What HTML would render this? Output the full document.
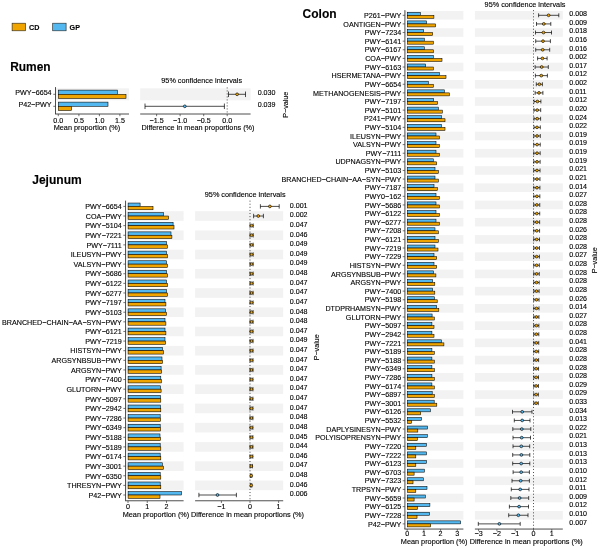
<!DOCTYPE html>
<html><head><meta charset="utf-8"><title>Extended error bar plots</title>
<style>
html,body{margin:0;padding:0;background:#fff}
svg{display:block}
text{font-family:"Liberation Sans",Arial,Helvetica,sans-serif;fill:#000;stroke:#000;stroke-width:0.12px}
</style></head><body>
<svg width="600" height="547" viewBox="0 0 600 547">
<rect x="0" y="0" width="600" height="547" fill="#fff"/>
<rect x="12.1" y="23.2" width="13.4" height="7.6" fill="#EFA400" stroke="#222" stroke-width="0.6"/>
<rect x="52.7" y="23.2" width="13.4" height="7.6" fill="#52B8EF" stroke="#222" stroke-width="0.6"/>
<text x="29.00" y="30.00" font-size="7.17" text-anchor="start" font-weight="bold">CD</text>
<text x="69.60" y="30.00" font-size="7.17" text-anchor="start" font-weight="bold">GP</text>
<text x="10.20" y="71.10" font-size="11.95" text-anchor="start" font-weight="bold">Rumen</text>
<text x="32.20" y="183.80" font-size="12.05" text-anchor="start" font-weight="bold">Jejunum</text>
<text x="302.60" y="18.20" font-size="12.0" text-anchor="start" font-weight="bold">Colon</text>
<rect x="55.50" y="88.30" width="73.50" height="12.00" fill="#f2f2f2"/>
<rect x="140.20" y="88.30" width="110.40" height="12.00" fill="#f2f2f2"/>
<line x1="227.20" y1="87.10" x2="227.20" y2="114.00" stroke="#222" stroke-width="0.5" stroke-dasharray="1.6,1.4"/>
<rect x="58.30" y="90.10" width="59.10" height="4.20" fill="#52B8EF" stroke="#000" stroke-width="0.55"/>
<rect x="58.30" y="94.30" width="67.70" height="4.20" fill="#EFA400" stroke="#000" stroke-width="0.55"/>
<line x1="53.30" y1="94.30" x2="55.50" y2="94.30" stroke="#3a3a3a" stroke-width="0.7"/>
<text x="51.60" y="95.35" font-size="7.17" text-anchor="end">PWY−6654</text>
<text x="257.70" y="95.30" font-size="7.1" text-anchor="start">0.030</text>
<path d="M228.50 94.30H245.50M228.50 91.54V97.06M245.50 91.54V97.06" stroke="#000" stroke-width="0.7" fill="none"/>
<circle cx="237.10" cy="94.30" r="1.4" fill="#EFA400" stroke="#000" stroke-width="0.62"/>
<rect x="58.30" y="102.10" width="49.70" height="4.20" fill="#52B8EF" stroke="#000" stroke-width="0.55"/>
<rect x="58.30" y="106.30" width="13.30" height="4.20" fill="#EFA400" stroke="#000" stroke-width="0.55"/>
<line x1="53.30" y1="106.30" x2="55.50" y2="106.30" stroke="#3a3a3a" stroke-width="0.7"/>
<text x="51.60" y="107.35" font-size="7.17" text-anchor="end">P42−PWY</text>
<text x="257.70" y="107.30" font-size="7.1" text-anchor="start">0.039</text>
<path d="M145.00 106.30H224.40M145.00 103.54V109.06M224.40 103.54V109.06" stroke="#000" stroke-width="0.7" fill="none"/>
<circle cx="184.80" cy="106.30" r="1.4" fill="#52B8EF" stroke="#000" stroke-width="0.62"/>
<line x1="55.50" y1="87.10" x2="55.50" y2="114.00" stroke="#3a3a3a" stroke-width="0.9"/>
<line x1="55.05" y1="114.00" x2="129.00" y2="114.00" stroke="#3a3a3a" stroke-width="0.9"/>
<line x1="140.20" y1="114.00" x2="250.60" y2="114.00" stroke="#3a3a3a" stroke-width="0.9"/>
<line x1="58.30" y1="114.00" x2="58.30" y2="116.20" stroke="#3a3a3a" stroke-width="0.7"/>
<text x="58.30" y="122.70" font-size="7.17" text-anchor="middle">0.0</text>
<line x1="78.90" y1="114.00" x2="78.90" y2="116.20" stroke="#3a3a3a" stroke-width="0.7"/>
<text x="78.90" y="122.70" font-size="7.17" text-anchor="middle">0.5</text>
<line x1="99.40" y1="114.00" x2="99.40" y2="116.20" stroke="#3a3a3a" stroke-width="0.7"/>
<text x="99.40" y="122.70" font-size="7.17" text-anchor="middle">1.0</text>
<line x1="119.90" y1="114.00" x2="119.90" y2="116.20" stroke="#3a3a3a" stroke-width="0.7"/>
<text x="119.90" y="122.70" font-size="7.17" text-anchor="middle">1.5</text>
<line x1="156.60" y1="114.00" x2="156.60" y2="116.20" stroke="#3a3a3a" stroke-width="0.7"/>
<text x="156.60" y="122.70" font-size="7.17" text-anchor="middle">−1.5</text>
<line x1="180.10" y1="114.00" x2="180.10" y2="116.20" stroke="#3a3a3a" stroke-width="0.7"/>
<text x="180.10" y="122.70" font-size="7.17" text-anchor="middle">−1.0</text>
<line x1="203.70" y1="114.00" x2="203.70" y2="116.20" stroke="#3a3a3a" stroke-width="0.7"/>
<text x="203.70" y="122.70" font-size="7.17" text-anchor="middle">−0.5</text>
<line x1="227.20" y1="114.00" x2="227.20" y2="116.20" stroke="#3a3a3a" stroke-width="0.7"/>
<text x="227.20" y="122.70" font-size="7.17" text-anchor="middle">0.0</text>
<text x="87.00" y="130.00" font-size="7.3" text-anchor="middle">Mean proportion (%)</text>
<text x="198.00" y="130.00" font-size="7.3" text-anchor="middle">Difference in mean proportions (%)</text>
<text x="201.70" y="83.20" font-size="7.27" text-anchor="middle">95% confidence intervals</text>
<text x="0.00" y="0.00" font-size="7.17" text-anchor="middle" transform="translate(287.80,104.75) rotate(-90)">P−value</text>
<rect x="125.55" y="211.21" width="58.05" height="9.62" fill="#f2f2f2"/>
<rect x="195.10" y="211.21" width="88.10" height="9.62" fill="#f2f2f2"/>
<rect x="125.55" y="230.45" width="58.05" height="9.62" fill="#f2f2f2"/>
<rect x="195.10" y="230.45" width="88.10" height="9.62" fill="#f2f2f2"/>
<rect x="125.55" y="249.69" width="58.05" height="9.62" fill="#f2f2f2"/>
<rect x="195.10" y="249.69" width="88.10" height="9.62" fill="#f2f2f2"/>
<rect x="125.55" y="268.93" width="58.05" height="9.62" fill="#f2f2f2"/>
<rect x="195.10" y="268.93" width="88.10" height="9.62" fill="#f2f2f2"/>
<rect x="125.55" y="288.17" width="58.05" height="9.62" fill="#f2f2f2"/>
<rect x="195.10" y="288.17" width="88.10" height="9.62" fill="#f2f2f2"/>
<rect x="125.55" y="307.41" width="58.05" height="9.62" fill="#f2f2f2"/>
<rect x="195.10" y="307.41" width="88.10" height="9.62" fill="#f2f2f2"/>
<rect x="125.55" y="326.65" width="58.05" height="9.62" fill="#f2f2f2"/>
<rect x="195.10" y="326.65" width="88.10" height="9.62" fill="#f2f2f2"/>
<rect x="125.55" y="345.89" width="58.05" height="9.62" fill="#f2f2f2"/>
<rect x="195.10" y="345.89" width="88.10" height="9.62" fill="#f2f2f2"/>
<rect x="125.55" y="365.13" width="58.05" height="9.62" fill="#f2f2f2"/>
<rect x="195.10" y="365.13" width="88.10" height="9.62" fill="#f2f2f2"/>
<rect x="125.55" y="384.37" width="58.05" height="9.62" fill="#f2f2f2"/>
<rect x="195.10" y="384.37" width="88.10" height="9.62" fill="#f2f2f2"/>
<rect x="125.55" y="403.61" width="58.05" height="9.62" fill="#f2f2f2"/>
<rect x="195.10" y="403.61" width="88.10" height="9.62" fill="#f2f2f2"/>
<rect x="125.55" y="422.85" width="58.05" height="9.62" fill="#f2f2f2"/>
<rect x="195.10" y="422.85" width="88.10" height="9.62" fill="#f2f2f2"/>
<rect x="125.55" y="442.09" width="58.05" height="9.62" fill="#f2f2f2"/>
<rect x="195.10" y="442.09" width="88.10" height="9.62" fill="#f2f2f2"/>
<rect x="125.55" y="461.33" width="58.05" height="9.62" fill="#f2f2f2"/>
<rect x="195.10" y="461.33" width="88.10" height="9.62" fill="#f2f2f2"/>
<rect x="125.55" y="480.57" width="58.05" height="9.62" fill="#f2f2f2"/>
<rect x="195.10" y="480.57" width="88.10" height="9.62" fill="#f2f2f2"/>
<line x1="250.00" y1="200.63" x2="250.00" y2="500.77" stroke="#000" stroke-width="0.7" stroke-dasharray="1.0,2.1"/>
<rect x="128.10" y="203.03" width="12.00" height="3.37" fill="#52B8EF" stroke="#000" stroke-width="0.55"/>
<rect x="128.10" y="206.40" width="24.90" height="3.37" fill="#EFA400" stroke="#000" stroke-width="0.55"/>
<line x1="123.35" y1="206.40" x2="125.55" y2="206.40" stroke="#3a3a3a" stroke-width="0.7"/>
<text x="121.75" y="209.15" font-size="7.17" text-anchor="end">PWY−6654</text>
<text x="289.80" y="207.70" font-size="7.1" text-anchor="start">0.001</text>
<path d="M260.40 206.40H279.20M260.40 204.19V208.61M279.20 204.19V208.61" stroke="#000" stroke-width="0.7" fill="none"/>
<circle cx="269.90" cy="206.40" r="1.4" fill="#EFA400" stroke="#000" stroke-width="0.62"/>
<rect x="128.10" y="212.65" width="35.40" height="3.37" fill="#52B8EF" stroke="#000" stroke-width="0.55"/>
<rect x="128.10" y="216.02" width="40.50" height="3.37" fill="#EFA400" stroke="#000" stroke-width="0.55"/>
<line x1="123.35" y1="216.02" x2="125.55" y2="216.02" stroke="#3a3a3a" stroke-width="0.7"/>
<text x="121.75" y="218.77" font-size="7.17" text-anchor="end">COA−PWY</text>
<text x="289.80" y="217.32" font-size="7.1" text-anchor="start">0.002</text>
<path d="M253.60 216.02H263.40M253.60 213.81V218.23M263.40 213.81V218.23" stroke="#000" stroke-width="0.7" fill="none"/>
<circle cx="258.30" cy="216.02" r="1.4" fill="#EFA400" stroke="#000" stroke-width="0.62"/>
<rect x="128.10" y="222.27" width="45.00" height="3.37" fill="#52B8EF" stroke="#000" stroke-width="0.55"/>
<rect x="128.10" y="225.64" width="45.90" height="3.37" fill="#EFA400" stroke="#000" stroke-width="0.55"/>
<line x1="123.35" y1="225.64" x2="125.55" y2="225.64" stroke="#3a3a3a" stroke-width="0.7"/>
<text x="121.75" y="228.39" font-size="7.17" text-anchor="end">PWY−5104</text>
<text x="289.80" y="226.94" font-size="7.1" text-anchor="start">0.047</text>
<path d="M250.00 225.64H253.20M250.00 223.43V227.85M253.20 223.43V227.85" stroke="#000" stroke-width="0.7" fill="none"/>
<circle cx="251.60" cy="225.64" r="1.4" fill="#EFA400" stroke="#000" stroke-width="0.62"/>
<rect x="128.10" y="231.89" width="42.90" height="3.37" fill="#52B8EF" stroke="#000" stroke-width="0.55"/>
<rect x="128.10" y="235.26" width="43.80" height="3.37" fill="#EFA400" stroke="#000" stroke-width="0.55"/>
<line x1="123.35" y1="235.26" x2="125.55" y2="235.26" stroke="#3a3a3a" stroke-width="0.7"/>
<text x="121.75" y="238.01" font-size="7.17" text-anchor="end">PWY−7221</text>
<text x="289.80" y="236.56" font-size="7.1" text-anchor="start">0.046</text>
<path d="M250.00 235.26H253.19M250.00 233.05V237.47M253.19 233.05V237.47" stroke="#000" stroke-width="0.7" fill="none"/>
<circle cx="251.59" cy="235.26" r="1.4" fill="#EFA400" stroke="#000" stroke-width="0.62"/>
<rect x="128.10" y="241.51" width="38.40" height="3.37" fill="#52B8EF" stroke="#000" stroke-width="0.55"/>
<rect x="128.10" y="244.88" width="39.30" height="3.37" fill="#EFA400" stroke="#000" stroke-width="0.55"/>
<line x1="123.35" y1="244.88" x2="125.55" y2="244.88" stroke="#3a3a3a" stroke-width="0.7"/>
<text x="121.75" y="247.63" font-size="7.17" text-anchor="end">PWY−7111</text>
<text x="289.80" y="246.18" font-size="7.1" text-anchor="start">0.049</text>
<path d="M250.00 244.88H253.17M250.00 242.67V247.09M253.17 242.67V247.09" stroke="#000" stroke-width="0.7" fill="none"/>
<circle cx="251.59" cy="244.88" r="1.4" fill="#EFA400" stroke="#000" stroke-width="0.62"/>
<rect x="128.10" y="251.13" width="38.40" height="3.37" fill="#52B8EF" stroke="#000" stroke-width="0.55"/>
<rect x="128.10" y="254.50" width="39.30" height="3.37" fill="#EFA400" stroke="#000" stroke-width="0.55"/>
<line x1="123.35" y1="254.50" x2="125.55" y2="254.50" stroke="#3a3a3a" stroke-width="0.7"/>
<text x="121.75" y="257.25" font-size="7.17" text-anchor="end">ILEUSYN−PWY</text>
<text x="289.80" y="255.80" font-size="7.1" text-anchor="start">0.049</text>
<path d="M250.00 254.50H253.16M250.00 252.29V256.71M253.16 252.29V256.71" stroke="#000" stroke-width="0.7" fill="none"/>
<circle cx="251.58" cy="254.50" r="1.4" fill="#EFA400" stroke="#000" stroke-width="0.62"/>
<rect x="128.10" y="260.75" width="38.40" height="3.37" fill="#52B8EF" stroke="#000" stroke-width="0.55"/>
<rect x="128.10" y="264.12" width="39.30" height="3.37" fill="#EFA400" stroke="#000" stroke-width="0.55"/>
<line x1="123.35" y1="264.12" x2="125.55" y2="264.12" stroke="#3a3a3a" stroke-width="0.7"/>
<text x="121.75" y="266.87" font-size="7.17" text-anchor="end">VALSYN−PWY</text>
<text x="289.80" y="265.42" font-size="7.1" text-anchor="start">0.049</text>
<path d="M250.00 264.12H253.14M250.00 261.91V266.33M253.14 261.91V266.33" stroke="#000" stroke-width="0.7" fill="none"/>
<circle cx="251.57" cy="264.12" r="1.4" fill="#EFA400" stroke="#000" stroke-width="0.62"/>
<rect x="128.10" y="270.37" width="38.40" height="3.37" fill="#52B8EF" stroke="#000" stroke-width="0.55"/>
<rect x="128.10" y="273.74" width="39.30" height="3.37" fill="#EFA400" stroke="#000" stroke-width="0.55"/>
<line x1="123.35" y1="273.74" x2="125.55" y2="273.74" stroke="#3a3a3a" stroke-width="0.7"/>
<text x="121.75" y="276.49" font-size="7.17" text-anchor="end">PWY−5686</text>
<text x="289.80" y="275.04" font-size="7.1" text-anchor="start">0.048</text>
<path d="M250.00 273.74H253.13M250.00 271.53V275.95M253.13 271.53V275.95" stroke="#000" stroke-width="0.7" fill="none"/>
<circle cx="251.56" cy="273.74" r="1.4" fill="#EFA400" stroke="#000" stroke-width="0.62"/>
<rect x="128.10" y="279.99" width="38.40" height="3.37" fill="#52B8EF" stroke="#000" stroke-width="0.55"/>
<rect x="128.10" y="283.36" width="39.30" height="3.37" fill="#EFA400" stroke="#000" stroke-width="0.55"/>
<line x1="123.35" y1="283.36" x2="125.55" y2="283.36" stroke="#3a3a3a" stroke-width="0.7"/>
<text x="121.75" y="286.11" font-size="7.17" text-anchor="end">PWY−6122</text>
<text x="289.80" y="284.66" font-size="7.1" text-anchor="start">0.047</text>
<path d="M250.00 283.36H253.11M250.00 281.15V285.57M253.11 281.15V285.57" stroke="#000" stroke-width="0.7" fill="none"/>
<circle cx="251.56" cy="283.36" r="1.4" fill="#EFA400" stroke="#000" stroke-width="0.62"/>
<rect x="128.10" y="289.61" width="38.40" height="3.37" fill="#52B8EF" stroke="#000" stroke-width="0.55"/>
<rect x="128.10" y="292.98" width="39.30" height="3.37" fill="#EFA400" stroke="#000" stroke-width="0.55"/>
<line x1="123.35" y1="292.98" x2="125.55" y2="292.98" stroke="#3a3a3a" stroke-width="0.7"/>
<text x="121.75" y="295.73" font-size="7.17" text-anchor="end">PWY−6277</text>
<text x="289.80" y="294.28" font-size="7.1" text-anchor="start">0.047</text>
<path d="M250.00 292.98H253.10M250.00 290.77V295.19M253.10 290.77V295.19" stroke="#000" stroke-width="0.7" fill="none"/>
<circle cx="251.55" cy="292.98" r="1.4" fill="#EFA400" stroke="#000" stroke-width="0.62"/>
<rect x="128.10" y="299.23" width="36.90" height="3.37" fill="#52B8EF" stroke="#000" stroke-width="0.55"/>
<rect x="128.10" y="302.60" width="37.80" height="3.37" fill="#EFA400" stroke="#000" stroke-width="0.55"/>
<line x1="123.35" y1="302.60" x2="125.55" y2="302.60" stroke="#3a3a3a" stroke-width="0.7"/>
<text x="121.75" y="305.35" font-size="7.17" text-anchor="end">PWY−7197</text>
<text x="289.80" y="303.90" font-size="7.1" text-anchor="start">0.047</text>
<path d="M250.00 302.60H253.08M250.00 300.39V304.81M253.08 300.39V304.81" stroke="#000" stroke-width="0.7" fill="none"/>
<circle cx="251.54" cy="302.60" r="1.4" fill="#EFA400" stroke="#000" stroke-width="0.62"/>
<rect x="128.10" y="308.85" width="37.50" height="3.37" fill="#52B8EF" stroke="#000" stroke-width="0.55"/>
<rect x="128.10" y="312.22" width="38.40" height="3.37" fill="#EFA400" stroke="#000" stroke-width="0.55"/>
<line x1="123.35" y1="312.22" x2="125.55" y2="312.22" stroke="#3a3a3a" stroke-width="0.7"/>
<text x="121.75" y="314.97" font-size="7.17" text-anchor="end">PWY−5103</text>
<text x="289.80" y="313.52" font-size="7.1" text-anchor="start">0.048</text>
<path d="M250.00 312.22H253.07M250.00 310.01V314.43M253.07 310.01V314.43" stroke="#000" stroke-width="0.7" fill="none"/>
<circle cx="251.53" cy="312.22" r="1.4" fill="#EFA400" stroke="#000" stroke-width="0.62"/>
<rect x="128.10" y="318.47" width="36.90" height="3.37" fill="#52B8EF" stroke="#000" stroke-width="0.55"/>
<rect x="128.10" y="321.84" width="37.80" height="3.37" fill="#EFA400" stroke="#000" stroke-width="0.55"/>
<line x1="123.35" y1="321.84" x2="125.55" y2="321.84" stroke="#3a3a3a" stroke-width="0.7"/>
<text x="121.75" y="324.59" font-size="7.17" text-anchor="end">BRANCHED−CHAIN−AA−SYN−PWY</text>
<text x="289.80" y="323.14" font-size="7.1" text-anchor="start">0.048</text>
<path d="M250.00 321.84H253.05M250.00 319.63V324.05M253.05 319.63V324.05" stroke="#000" stroke-width="0.7" fill="none"/>
<circle cx="251.53" cy="321.84" r="1.4" fill="#EFA400" stroke="#000" stroke-width="0.62"/>
<rect x="128.10" y="328.09" width="36.90" height="3.37" fill="#52B8EF" stroke="#000" stroke-width="0.55"/>
<rect x="128.10" y="331.46" width="37.80" height="3.37" fill="#EFA400" stroke="#000" stroke-width="0.55"/>
<line x1="123.35" y1="331.46" x2="125.55" y2="331.46" stroke="#3a3a3a" stroke-width="0.7"/>
<text x="121.75" y="334.21" font-size="7.17" text-anchor="end">PWY−6121</text>
<text x="289.80" y="332.76" font-size="7.1" text-anchor="start">0.047</text>
<path d="M250.00 331.46H253.04M250.00 329.25V333.67M253.04 329.25V333.67" stroke="#000" stroke-width="0.7" fill="none"/>
<circle cx="251.52" cy="331.46" r="1.4" fill="#EFA400" stroke="#000" stroke-width="0.62"/>
<rect x="128.10" y="337.71" width="36.90" height="3.37" fill="#52B8EF" stroke="#000" stroke-width="0.55"/>
<rect x="128.10" y="341.08" width="37.50" height="3.37" fill="#EFA400" stroke="#000" stroke-width="0.55"/>
<line x1="123.35" y1="341.08" x2="125.55" y2="341.08" stroke="#3a3a3a" stroke-width="0.7"/>
<text x="121.75" y="343.83" font-size="7.17" text-anchor="end">PWY−7219</text>
<text x="289.80" y="342.38" font-size="7.1" text-anchor="start">0.049</text>
<path d="M250.00 341.08H253.02M250.00 338.87V343.29M253.02 338.87V343.29" stroke="#000" stroke-width="0.7" fill="none"/>
<circle cx="251.51" cy="341.08" r="1.4" fill="#EFA400" stroke="#000" stroke-width="0.62"/>
<rect x="128.10" y="347.33" width="34.50" height="3.37" fill="#52B8EF" stroke="#000" stroke-width="0.55"/>
<rect x="128.10" y="350.70" width="35.40" height="3.37" fill="#EFA400" stroke="#000" stroke-width="0.55"/>
<line x1="123.35" y1="350.70" x2="125.55" y2="350.70" stroke="#3a3a3a" stroke-width="0.7"/>
<text x="121.75" y="353.45" font-size="7.17" text-anchor="end">HISTSYN−PWY</text>
<text x="289.80" y="352.00" font-size="7.1" text-anchor="start">0.047</text>
<path d="M250.00 350.70H253.01M250.00 348.49V352.91M253.01 348.49V352.91" stroke="#000" stroke-width="0.7" fill="none"/>
<circle cx="251.50" cy="350.70" r="1.4" fill="#EFA400" stroke="#000" stroke-width="0.62"/>
<rect x="128.10" y="356.95" width="33.90" height="3.37" fill="#52B8EF" stroke="#000" stroke-width="0.55"/>
<rect x="128.10" y="360.32" width="34.50" height="3.37" fill="#EFA400" stroke="#000" stroke-width="0.55"/>
<line x1="123.35" y1="360.32" x2="125.55" y2="360.32" stroke="#3a3a3a" stroke-width="0.7"/>
<text x="121.75" y="363.07" font-size="7.17" text-anchor="end">ARGSYNBSUB−PWY</text>
<text x="289.80" y="361.62" font-size="7.1" text-anchor="start">0.047</text>
<path d="M250.00 360.32H252.99M250.00 358.11V362.53M252.99 358.11V362.53" stroke="#000" stroke-width="0.7" fill="none"/>
<circle cx="251.50" cy="360.32" r="1.4" fill="#EFA400" stroke="#000" stroke-width="0.62"/>
<rect x="128.10" y="366.57" width="33.00" height="3.37" fill="#52B8EF" stroke="#000" stroke-width="0.55"/>
<rect x="128.10" y="369.94" width="33.60" height="3.37" fill="#EFA400" stroke="#000" stroke-width="0.55"/>
<line x1="123.35" y1="369.94" x2="125.55" y2="369.94" stroke="#3a3a3a" stroke-width="0.7"/>
<text x="121.75" y="372.69" font-size="7.17" text-anchor="end">ARGSYN−PWY</text>
<text x="289.80" y="371.24" font-size="7.1" text-anchor="start">0.047</text>
<path d="M250.00 369.94H252.98M250.00 367.73V372.15M252.98 367.73V372.15" stroke="#000" stroke-width="0.7" fill="none"/>
<circle cx="251.49" cy="369.94" r="1.4" fill="#EFA400" stroke="#000" stroke-width="0.62"/>
<rect x="128.10" y="376.19" width="32.70" height="3.37" fill="#52B8EF" stroke="#000" stroke-width="0.55"/>
<rect x="128.10" y="379.56" width="33.30" height="3.37" fill="#EFA400" stroke="#000" stroke-width="0.55"/>
<line x1="123.35" y1="379.56" x2="125.55" y2="379.56" stroke="#3a3a3a" stroke-width="0.7"/>
<text x="121.75" y="382.31" font-size="7.17" text-anchor="end">PWY−7400</text>
<text x="289.80" y="380.86" font-size="7.1" text-anchor="start">0.047</text>
<path d="M250.00 379.56H252.96M250.00 377.35V381.77M252.96 377.35V381.77" stroke="#000" stroke-width="0.7" fill="none"/>
<circle cx="251.48" cy="379.56" r="1.4" fill="#EFA400" stroke="#000" stroke-width="0.62"/>
<rect x="128.10" y="385.81" width="32.40" height="3.37" fill="#52B8EF" stroke="#000" stroke-width="0.55"/>
<rect x="128.10" y="389.18" width="33.00" height="3.37" fill="#EFA400" stroke="#000" stroke-width="0.55"/>
<line x1="123.35" y1="389.18" x2="125.55" y2="389.18" stroke="#3a3a3a" stroke-width="0.7"/>
<text x="121.75" y="391.93" font-size="7.17" text-anchor="end">GLUTORN−PWY</text>
<text x="289.80" y="390.48" font-size="7.1" text-anchor="start">0.047</text>
<path d="M250.00 389.18H252.95M250.00 386.97V391.39M252.95 386.97V391.39" stroke="#000" stroke-width="0.7" fill="none"/>
<circle cx="251.47" cy="389.18" r="1.4" fill="#EFA400" stroke="#000" stroke-width="0.62"/>
<rect x="128.10" y="395.43" width="32.40" height="3.37" fill="#52B8EF" stroke="#000" stroke-width="0.55"/>
<rect x="128.10" y="398.80" width="32.70" height="3.37" fill="#EFA400" stroke="#000" stroke-width="0.55"/>
<line x1="123.35" y1="398.80" x2="125.55" y2="398.80" stroke="#3a3a3a" stroke-width="0.7"/>
<text x="121.75" y="401.55" font-size="7.17" text-anchor="end">PWY−5097</text>
<text x="289.80" y="400.10" font-size="7.1" text-anchor="start">0.047</text>
<path d="M250.00 398.80H252.93M250.00 396.59V401.01M252.93 396.59V401.01" stroke="#000" stroke-width="0.7" fill="none"/>
<circle cx="251.47" cy="398.80" r="1.4" fill="#EFA400" stroke="#000" stroke-width="0.62"/>
<rect x="128.10" y="405.05" width="32.40" height="3.37" fill="#52B8EF" stroke="#000" stroke-width="0.55"/>
<rect x="128.10" y="408.42" width="32.70" height="3.37" fill="#EFA400" stroke="#000" stroke-width="0.55"/>
<line x1="123.35" y1="408.42" x2="125.55" y2="408.42" stroke="#3a3a3a" stroke-width="0.7"/>
<text x="121.75" y="411.17" font-size="7.17" text-anchor="end">PWY−2942</text>
<text x="289.80" y="409.72" font-size="7.1" text-anchor="start">0.047</text>
<path d="M250.00 408.42H252.92M250.00 406.21V410.63M252.92 406.21V410.63" stroke="#000" stroke-width="0.7" fill="none"/>
<circle cx="251.46" cy="408.42" r="1.4" fill="#EFA400" stroke="#000" stroke-width="0.62"/>
<rect x="128.10" y="414.67" width="32.10" height="3.37" fill="#52B8EF" stroke="#000" stroke-width="0.55"/>
<rect x="128.10" y="418.04" width="32.40" height="3.37" fill="#EFA400" stroke="#000" stroke-width="0.55"/>
<line x1="123.35" y1="418.04" x2="125.55" y2="418.04" stroke="#3a3a3a" stroke-width="0.7"/>
<text x="121.75" y="420.79" font-size="7.17" text-anchor="end">PWY−7286</text>
<text x="289.80" y="419.34" font-size="7.1" text-anchor="start">0.048</text>
<path d="M250.00 418.04H252.90M250.00 415.83V420.25M252.90 415.83V420.25" stroke="#000" stroke-width="0.7" fill="none"/>
<circle cx="251.45" cy="418.04" r="1.4" fill="#EFA400" stroke="#000" stroke-width="0.62"/>
<rect x="128.10" y="424.29" width="32.10" height="3.37" fill="#52B8EF" stroke="#000" stroke-width="0.55"/>
<rect x="128.10" y="427.66" width="32.40" height="3.37" fill="#EFA400" stroke="#000" stroke-width="0.55"/>
<line x1="123.35" y1="427.66" x2="125.55" y2="427.66" stroke="#3a3a3a" stroke-width="0.7"/>
<text x="121.75" y="430.41" font-size="7.17" text-anchor="end">PWY−6349</text>
<text x="289.80" y="428.96" font-size="7.1" text-anchor="start">0.048</text>
<path d="M250.00 427.66H252.89M250.00 425.45V429.87M252.89 425.45V429.87" stroke="#000" stroke-width="0.7" fill="none"/>
<circle cx="251.44" cy="427.66" r="1.4" fill="#EFA400" stroke="#000" stroke-width="0.62"/>
<rect x="128.10" y="433.91" width="31.90" height="3.37" fill="#52B8EF" stroke="#000" stroke-width="0.55"/>
<rect x="128.10" y="437.28" width="32.40" height="3.37" fill="#EFA400" stroke="#000" stroke-width="0.55"/>
<line x1="123.35" y1="437.28" x2="125.55" y2="437.28" stroke="#3a3a3a" stroke-width="0.7"/>
<text x="121.75" y="440.03" font-size="7.17" text-anchor="end">PWY−5188</text>
<text x="289.80" y="438.58" font-size="7.1" text-anchor="start">0.045</text>
<path d="M250.00 437.28H252.87M250.00 435.07V439.49M252.87 435.07V439.49" stroke="#000" stroke-width="0.7" fill="none"/>
<circle cx="251.44" cy="437.28" r="1.4" fill="#EFA400" stroke="#000" stroke-width="0.62"/>
<rect x="128.10" y="443.53" width="32.10" height="3.37" fill="#52B8EF" stroke="#000" stroke-width="0.55"/>
<rect x="128.10" y="446.90" width="32.70" height="3.37" fill="#EFA400" stroke="#000" stroke-width="0.55"/>
<line x1="123.35" y1="446.90" x2="125.55" y2="446.90" stroke="#3a3a3a" stroke-width="0.7"/>
<text x="121.75" y="449.65" font-size="7.17" text-anchor="end">PWY−5189</text>
<text x="289.80" y="448.20" font-size="7.1" text-anchor="start">0.044</text>
<path d="M250.00 446.90H252.86M250.00 444.69V449.11M252.86 444.69V449.11" stroke="#000" stroke-width="0.7" fill="none"/>
<circle cx="251.43" cy="446.90" r="1.4" fill="#EFA400" stroke="#000" stroke-width="0.62"/>
<rect x="128.10" y="453.15" width="32.10" height="3.37" fill="#52B8EF" stroke="#000" stroke-width="0.55"/>
<rect x="128.10" y="456.52" width="32.70" height="3.37" fill="#EFA400" stroke="#000" stroke-width="0.55"/>
<line x1="123.35" y1="456.52" x2="125.55" y2="456.52" stroke="#3a3a3a" stroke-width="0.7"/>
<text x="121.75" y="459.27" font-size="7.17" text-anchor="end">PWY−6174</text>
<text x="289.80" y="457.82" font-size="7.1" text-anchor="start">0.046</text>
<path d="M250.00 456.52H252.84M250.00 454.31V458.73M252.84 454.31V458.73" stroke="#000" stroke-width="0.7" fill="none"/>
<circle cx="251.42" cy="456.52" r="1.4" fill="#EFA400" stroke="#000" stroke-width="0.62"/>
<rect x="128.10" y="462.77" width="34.20" height="3.37" fill="#52B8EF" stroke="#000" stroke-width="0.55"/>
<rect x="128.10" y="466.14" width="35.40" height="3.37" fill="#EFA400" stroke="#000" stroke-width="0.55"/>
<line x1="123.35" y1="466.14" x2="125.55" y2="466.14" stroke="#3a3a3a" stroke-width="0.7"/>
<text x="121.75" y="468.89" font-size="7.17" text-anchor="end">PWY−3001</text>
<text x="289.80" y="467.44" font-size="7.1" text-anchor="start">0.047</text>
<path d="M250.20 466.14H252.40M250.20 463.93V468.35M252.40 463.93V468.35" stroke="#000" stroke-width="0.7" fill="none"/>
<circle cx="251.30" cy="466.14" r="1.4" fill="#EFA400" stroke="#000" stroke-width="0.62"/>
<rect x="128.10" y="472.39" width="32.10" height="3.37" fill="#52B8EF" stroke="#000" stroke-width="0.55"/>
<rect x="128.10" y="475.76" width="32.70" height="3.37" fill="#EFA400" stroke="#000" stroke-width="0.55"/>
<line x1="123.35" y1="475.76" x2="125.55" y2="475.76" stroke="#3a3a3a" stroke-width="0.7"/>
<text x="121.75" y="478.51" font-size="7.17" text-anchor="end">PWY−6350</text>
<text x="289.80" y="477.06" font-size="7.1" text-anchor="start">0.048</text>
<path d="M250.60 475.76H251.80M250.60 473.55V477.97M251.80 473.55V477.97" stroke="#000" stroke-width="0.7" fill="none"/>
<circle cx="251.20" cy="475.76" r="1.4" fill="#EFA400" stroke="#000" stroke-width="0.62"/>
<rect x="128.10" y="482.01" width="32.10" height="3.37" fill="#52B8EF" stroke="#000" stroke-width="0.55"/>
<rect x="128.10" y="485.38" width="32.70" height="3.37" fill="#EFA400" stroke="#000" stroke-width="0.55"/>
<line x1="123.35" y1="485.38" x2="125.55" y2="485.38" stroke="#3a3a3a" stroke-width="0.7"/>
<text x="121.75" y="488.13" font-size="7.17" text-anchor="end">THRESYN−PWY</text>
<text x="289.80" y="486.68" font-size="7.1" text-anchor="start">0.046</text>
<path d="M250.60 485.38H251.80M250.60 483.17V487.59M251.80 483.17V487.59" stroke="#000" stroke-width="0.7" fill="none"/>
<circle cx="251.20" cy="485.38" r="1.4" fill="#EFA400" stroke="#000" stroke-width="0.62"/>
<rect x="128.10" y="491.63" width="53.40" height="3.37" fill="#52B8EF" stroke="#000" stroke-width="0.55"/>
<rect x="128.10" y="495.00" width="31.90" height="3.37" fill="#EFA400" stroke="#000" stroke-width="0.55"/>
<line x1="123.35" y1="495.00" x2="125.55" y2="495.00" stroke="#3a3a3a" stroke-width="0.7"/>
<text x="121.75" y="497.75" font-size="7.17" text-anchor="end">P42−PWY</text>
<text x="289.80" y="496.30" font-size="7.1" text-anchor="start">0.006</text>
<path d="M198.90 495.00H236.40M198.90 492.79V497.21M236.40 492.79V497.21" stroke="#000" stroke-width="0.7" fill="none"/>
<circle cx="217.50" cy="495.00" r="1.4" fill="#52B8EF" stroke="#000" stroke-width="0.62"/>
<line x1="125.55" y1="200.63" x2="125.55" y2="500.77" stroke="#3a3a3a" stroke-width="0.9"/>
<line x1="125.10" y1="500.77" x2="183.60" y2="500.77" stroke="#3a3a3a" stroke-width="0.9"/>
<line x1="195.10" y1="500.77" x2="283.20" y2="500.77" stroke="#3a3a3a" stroke-width="0.9"/>
<line x1="128.00" y1="500.77" x2="128.00" y2="502.97" stroke="#3a3a3a" stroke-width="0.7"/>
<text x="128.00" y="509.37" font-size="7.17" text-anchor="middle">0</text>
<line x1="147.25" y1="500.77" x2="147.25" y2="502.97" stroke="#3a3a3a" stroke-width="0.7"/>
<text x="147.25" y="509.37" font-size="7.17" text-anchor="middle">1</text>
<line x1="166.50" y1="500.77" x2="166.50" y2="502.97" stroke="#3a3a3a" stroke-width="0.7"/>
<text x="166.50" y="509.37" font-size="7.17" text-anchor="middle">2</text>
<line x1="221.40" y1="500.77" x2="221.40" y2="502.97" stroke="#3a3a3a" stroke-width="0.7"/>
<text x="221.40" y="509.37" font-size="7.17" text-anchor="middle">−1</text>
<line x1="250.00" y1="500.77" x2="250.00" y2="502.97" stroke="#3a3a3a" stroke-width="0.7"/>
<text x="250.00" y="509.37" font-size="7.17" text-anchor="middle">0</text>
<line x1="278.60" y1="500.77" x2="278.60" y2="502.97" stroke="#3a3a3a" stroke-width="0.7"/>
<text x="278.60" y="509.37" font-size="7.17" text-anchor="middle">1</text>
<text x="156.00" y="516.97" font-size="7.3" text-anchor="middle">Mean proportion (%)</text>
<text x="247.50" y="516.97" font-size="7.3" text-anchor="middle">Difference in mean proportions (%)</text>
<text x="245.20" y="197.20" font-size="7.27" text-anchor="middle">95% confidence intervals</text>
<text x="0.00" y="0.00" font-size="7.17" text-anchor="middle" transform="translate(319.00,347.30) rotate(-90)">P−value</text>
<rect x="404.90" y="10.99" width="58.50" height="8.62" fill="#f2f2f2"/>
<rect x="474.90" y="10.99" width="87.90" height="8.62" fill="#f2f2f2"/>
<rect x="404.90" y="28.23" width="58.50" height="8.62" fill="#f2f2f2"/>
<rect x="474.90" y="28.23" width="87.90" height="8.62" fill="#f2f2f2"/>
<rect x="404.90" y="45.47" width="58.50" height="8.62" fill="#f2f2f2"/>
<rect x="474.90" y="45.47" width="87.90" height="8.62" fill="#f2f2f2"/>
<rect x="404.90" y="62.71" width="58.50" height="8.62" fill="#f2f2f2"/>
<rect x="474.90" y="62.71" width="87.90" height="8.62" fill="#f2f2f2"/>
<rect x="404.90" y="79.95" width="58.50" height="8.62" fill="#f2f2f2"/>
<rect x="474.90" y="79.95" width="87.90" height="8.62" fill="#f2f2f2"/>
<rect x="404.90" y="97.19" width="58.50" height="8.62" fill="#f2f2f2"/>
<rect x="474.90" y="97.19" width="87.90" height="8.62" fill="#f2f2f2"/>
<rect x="404.90" y="114.43" width="58.50" height="8.62" fill="#f2f2f2"/>
<rect x="474.90" y="114.43" width="87.90" height="8.62" fill="#f2f2f2"/>
<rect x="404.90" y="131.67" width="58.50" height="8.62" fill="#f2f2f2"/>
<rect x="474.90" y="131.67" width="87.90" height="8.62" fill="#f2f2f2"/>
<rect x="404.90" y="148.91" width="58.50" height="8.62" fill="#f2f2f2"/>
<rect x="474.90" y="148.91" width="87.90" height="8.62" fill="#f2f2f2"/>
<rect x="404.90" y="166.15" width="58.50" height="8.62" fill="#f2f2f2"/>
<rect x="474.90" y="166.15" width="87.90" height="8.62" fill="#f2f2f2"/>
<rect x="404.90" y="183.39" width="58.50" height="8.62" fill="#f2f2f2"/>
<rect x="474.90" y="183.39" width="87.90" height="8.62" fill="#f2f2f2"/>
<rect x="404.90" y="200.63" width="58.50" height="8.62" fill="#f2f2f2"/>
<rect x="474.90" y="200.63" width="87.90" height="8.62" fill="#f2f2f2"/>
<rect x="404.90" y="217.87" width="58.50" height="8.62" fill="#f2f2f2"/>
<rect x="474.90" y="217.87" width="87.90" height="8.62" fill="#f2f2f2"/>
<rect x="404.90" y="235.11" width="58.50" height="8.62" fill="#f2f2f2"/>
<rect x="474.90" y="235.11" width="87.90" height="8.62" fill="#f2f2f2"/>
<rect x="404.90" y="252.35" width="58.50" height="8.62" fill="#f2f2f2"/>
<rect x="474.90" y="252.35" width="87.90" height="8.62" fill="#f2f2f2"/>
<rect x="404.90" y="269.59" width="58.50" height="8.62" fill="#f2f2f2"/>
<rect x="474.90" y="269.59" width="87.90" height="8.62" fill="#f2f2f2"/>
<rect x="404.90" y="286.83" width="58.50" height="8.62" fill="#f2f2f2"/>
<rect x="474.90" y="286.83" width="87.90" height="8.62" fill="#f2f2f2"/>
<rect x="404.90" y="304.07" width="58.50" height="8.62" fill="#f2f2f2"/>
<rect x="474.90" y="304.07" width="87.90" height="8.62" fill="#f2f2f2"/>
<rect x="404.90" y="321.31" width="58.50" height="8.62" fill="#f2f2f2"/>
<rect x="474.90" y="321.31" width="87.90" height="8.62" fill="#f2f2f2"/>
<rect x="404.90" y="338.55" width="58.50" height="8.62" fill="#f2f2f2"/>
<rect x="474.90" y="338.55" width="87.90" height="8.62" fill="#f2f2f2"/>
<rect x="404.90" y="355.79" width="58.50" height="8.62" fill="#f2f2f2"/>
<rect x="474.90" y="355.79" width="87.90" height="8.62" fill="#f2f2f2"/>
<rect x="404.90" y="373.03" width="58.50" height="8.62" fill="#f2f2f2"/>
<rect x="474.90" y="373.03" width="87.90" height="8.62" fill="#f2f2f2"/>
<rect x="404.90" y="390.27" width="58.50" height="8.62" fill="#f2f2f2"/>
<rect x="474.90" y="390.27" width="87.90" height="8.62" fill="#f2f2f2"/>
<rect x="404.90" y="407.51" width="58.50" height="8.62" fill="#f2f2f2"/>
<rect x="474.90" y="407.51" width="87.90" height="8.62" fill="#f2f2f2"/>
<rect x="404.90" y="424.75" width="58.50" height="8.62" fill="#f2f2f2"/>
<rect x="474.90" y="424.75" width="87.90" height="8.62" fill="#f2f2f2"/>
<rect x="404.90" y="441.99" width="58.50" height="8.62" fill="#f2f2f2"/>
<rect x="474.90" y="441.99" width="87.90" height="8.62" fill="#f2f2f2"/>
<rect x="404.90" y="459.23" width="58.50" height="8.62" fill="#f2f2f2"/>
<rect x="474.90" y="459.23" width="87.90" height="8.62" fill="#f2f2f2"/>
<rect x="404.90" y="476.47" width="58.50" height="8.62" fill="#f2f2f2"/>
<rect x="474.90" y="476.47" width="87.90" height="8.62" fill="#f2f2f2"/>
<rect x="404.90" y="493.71" width="58.50" height="8.62" fill="#f2f2f2"/>
<rect x="474.90" y="493.71" width="87.90" height="8.62" fill="#f2f2f2"/>
<rect x="404.90" y="510.95" width="58.50" height="8.62" fill="#f2f2f2"/>
<rect x="474.90" y="510.95" width="87.90" height="8.62" fill="#f2f2f2"/>
<line x1="533.50" y1="10.13" x2="533.50" y2="529.05" stroke="#000" stroke-width="0.7" stroke-dasharray="1.0,2.1"/>
<rect x="407.40" y="12.28" width="12.90" height="3.02" fill="#52B8EF" stroke="#000" stroke-width="0.55"/>
<rect x="407.40" y="15.30" width="26.50" height="3.02" fill="#EFA400" stroke="#000" stroke-width="0.55"/>
<line x1="402.70" y1="15.30" x2="404.90" y2="15.30" stroke="#3a3a3a" stroke-width="0.7"/>
<text x="401.20" y="17.95" font-size="7.17" text-anchor="end">P261−PWY</text>
<text x="569.30" y="16.10" font-size="7.1" text-anchor="start">0.008</text>
<path d="M538.60 15.30H558.80M538.60 13.32V17.28M558.80 13.32V17.28" stroke="#000" stroke-width="0.7" fill="none"/>
<circle cx="548.60" cy="15.30" r="1.4" fill="#EFA400" stroke="#000" stroke-width="0.62"/>
<rect x="407.40" y="20.90" width="19.20" height="3.02" fill="#52B8EF" stroke="#000" stroke-width="0.55"/>
<rect x="407.40" y="23.92" width="28.30" height="3.02" fill="#EFA400" stroke="#000" stroke-width="0.55"/>
<line x1="402.70" y1="23.92" x2="404.90" y2="23.92" stroke="#3a3a3a" stroke-width="0.7"/>
<text x="401.20" y="26.57" font-size="7.17" text-anchor="end">OANTIGEN−PWY</text>
<text x="569.30" y="24.72" font-size="7.1" text-anchor="start">0.009</text>
<path d="M536.50 23.92H550.80M536.50 21.94V25.90M550.80 21.94V25.90" stroke="#000" stroke-width="0.7" fill="none"/>
<circle cx="543.80" cy="23.92" r="1.4" fill="#EFA400" stroke="#000" stroke-width="0.62"/>
<rect x="407.40" y="29.52" width="16.30" height="3.02" fill="#52B8EF" stroke="#000" stroke-width="0.55"/>
<rect x="407.40" y="32.54" width="25.30" height="3.02" fill="#EFA400" stroke="#000" stroke-width="0.55"/>
<line x1="402.70" y1="32.54" x2="404.90" y2="32.54" stroke="#3a3a3a" stroke-width="0.7"/>
<text x="401.20" y="35.19" font-size="7.17" text-anchor="end">PWY−7234</text>
<text x="569.30" y="33.34" font-size="7.1" text-anchor="start">0.018</text>
<path d="M535.50 32.54H551.50M535.50 30.56V34.52M551.50 30.56V34.52" stroke="#000" stroke-width="0.7" fill="none"/>
<circle cx="543.50" cy="32.54" r="1.4" fill="#EFA400" stroke="#000" stroke-width="0.62"/>
<rect x="407.40" y="38.14" width="16.90" height="3.02" fill="#52B8EF" stroke="#000" stroke-width="0.55"/>
<rect x="407.40" y="41.16" width="25.90" height="3.02" fill="#EFA400" stroke="#000" stroke-width="0.55"/>
<line x1="402.70" y1="41.16" x2="404.90" y2="41.16" stroke="#3a3a3a" stroke-width="0.7"/>
<text x="401.20" y="43.81" font-size="7.17" text-anchor="end">PWY−6141</text>
<text x="569.30" y="41.96" font-size="7.1" text-anchor="start">0.016</text>
<path d="M535.70 41.16H550.40M535.70 39.18V43.14M550.40 39.18V43.14" stroke="#000" stroke-width="0.7" fill="none"/>
<circle cx="543.00" cy="41.16" r="1.4" fill="#EFA400" stroke="#000" stroke-width="0.62"/>
<rect x="407.40" y="46.76" width="16.90" height="3.02" fill="#52B8EF" stroke="#000" stroke-width="0.55"/>
<rect x="407.40" y="49.78" width="25.90" height="3.02" fill="#EFA400" stroke="#000" stroke-width="0.55"/>
<line x1="402.70" y1="49.78" x2="404.90" y2="49.78" stroke="#3a3a3a" stroke-width="0.7"/>
<text x="401.20" y="52.43" font-size="7.17" text-anchor="end">PWY−6167</text>
<text x="569.30" y="50.58" font-size="7.1" text-anchor="start">0.016</text>
<path d="M535.70 49.78H549.70M535.70 47.80V51.76M549.70 47.80V51.76" stroke="#000" stroke-width="0.7" fill="none"/>
<circle cx="542.70" cy="49.78" r="1.4" fill="#EFA400" stroke="#000" stroke-width="0.62"/>
<rect x="407.40" y="55.38" width="25.90" height="3.02" fill="#52B8EF" stroke="#000" stroke-width="0.55"/>
<rect x="407.40" y="58.40" width="34.60" height="3.02" fill="#EFA400" stroke="#000" stroke-width="0.55"/>
<line x1="402.70" y1="58.40" x2="404.90" y2="58.40" stroke="#3a3a3a" stroke-width="0.7"/>
<text x="401.20" y="61.05" font-size="7.17" text-anchor="end">COA−PWY</text>
<text x="569.30" y="59.20" font-size="7.1" text-anchor="start">0.002</text>
<path d="M537.60 58.40H547.10M537.60 56.42V60.38M547.10 56.42V60.38" stroke="#000" stroke-width="0.7" fill="none"/>
<circle cx="542.40" cy="58.40" r="1.4" fill="#EFA400" stroke="#000" stroke-width="0.62"/>
<rect x="407.40" y="64.00" width="18.30" height="3.02" fill="#52B8EF" stroke="#000" stroke-width="0.55"/>
<rect x="407.40" y="67.02" width="25.90" height="3.02" fill="#EFA400" stroke="#000" stroke-width="0.55"/>
<line x1="402.70" y1="67.02" x2="404.90" y2="67.02" stroke="#3a3a3a" stroke-width="0.7"/>
<text x="401.20" y="69.67" font-size="7.17" text-anchor="end">PWY−6163</text>
<text x="569.30" y="67.82" font-size="7.1" text-anchor="start">0.017</text>
<path d="M535.10 67.02H548.30M535.10 65.04V69.00M548.30 65.04V69.00" stroke="#000" stroke-width="0.7" fill="none"/>
<circle cx="541.70" cy="67.02" r="1.4" fill="#EFA400" stroke="#000" stroke-width="0.62"/>
<rect x="407.40" y="72.62" width="31.90" height="3.02" fill="#52B8EF" stroke="#000" stroke-width="0.55"/>
<rect x="407.40" y="75.64" width="38.60" height="3.02" fill="#EFA400" stroke="#000" stroke-width="0.55"/>
<line x1="402.70" y1="75.64" x2="404.90" y2="75.64" stroke="#3a3a3a" stroke-width="0.7"/>
<text x="401.20" y="78.29" font-size="7.17" text-anchor="end">HSERMETANA−PWY</text>
<text x="569.30" y="76.44" font-size="7.1" text-anchor="start">0.012</text>
<path d="M535.40 75.64H547.40M535.40 73.66V77.62M547.40 73.66V77.62" stroke="#000" stroke-width="0.7" fill="none"/>
<circle cx="541.30" cy="75.64" r="1.4" fill="#EFA400" stroke="#000" stroke-width="0.62"/>
<rect x="407.40" y="81.24" width="20.90" height="3.02" fill="#52B8EF" stroke="#000" stroke-width="0.55"/>
<rect x="407.40" y="84.26" width="25.90" height="3.02" fill="#EFA400" stroke="#000" stroke-width="0.55"/>
<line x1="402.70" y1="84.26" x2="404.90" y2="84.26" stroke="#3a3a3a" stroke-width="0.7"/>
<text x="401.20" y="86.91" font-size="7.17" text-anchor="end">PWY−6654</text>
<text x="569.30" y="85.06" font-size="7.1" text-anchor="start">0.002</text>
<path d="M536.30 84.26H542.40M536.30 82.28V86.24M542.40 82.28V86.24" stroke="#000" stroke-width="0.7" fill="none"/>
<circle cx="539.40" cy="84.26" r="1.4" fill="#EFA400" stroke="#000" stroke-width="0.62"/>
<rect x="407.40" y="89.86" width="36.90" height="3.02" fill="#52B8EF" stroke="#000" stroke-width="0.55"/>
<rect x="407.40" y="92.88" width="41.90" height="3.02" fill="#EFA400" stroke="#000" stroke-width="0.55"/>
<line x1="402.70" y1="92.88" x2="404.90" y2="92.88" stroke="#3a3a3a" stroke-width="0.7"/>
<text x="401.20" y="95.53" font-size="7.17" text-anchor="end">METHANOGENESIS−PWY</text>
<text x="569.30" y="93.68" font-size="7.1" text-anchor="start">0.011</text>
<path d="M535.10 92.88H542.90M535.10 90.90V94.86M542.90 90.90V94.86" stroke="#000" stroke-width="0.7" fill="none"/>
<circle cx="539.00" cy="92.88" r="1.4" fill="#EFA400" stroke="#000" stroke-width="0.62"/>
<rect x="407.40" y="98.48" width="26.30" height="3.02" fill="#52B8EF" stroke="#000" stroke-width="0.55"/>
<rect x="407.40" y="101.50" width="30.30" height="3.02" fill="#EFA400" stroke="#000" stroke-width="0.55"/>
<line x1="402.70" y1="101.50" x2="404.90" y2="101.50" stroke="#3a3a3a" stroke-width="0.7"/>
<text x="401.20" y="104.15" font-size="7.17" text-anchor="end">PWY−7197</text>
<text x="569.30" y="102.30" font-size="7.1" text-anchor="start">0.012</text>
<path d="M534.00 101.50H540.90M534.00 99.52V103.48M540.90 99.52V103.48" stroke="#000" stroke-width="0.7" fill="none"/>
<circle cx="537.40" cy="101.50" r="1.4" fill="#EFA400" stroke="#000" stroke-width="0.62"/>
<rect x="407.40" y="107.10" width="30.90" height="3.02" fill="#52B8EF" stroke="#000" stroke-width="0.55"/>
<rect x="407.40" y="110.12" width="34.90" height="3.02" fill="#EFA400" stroke="#000" stroke-width="0.55"/>
<line x1="402.70" y1="110.12" x2="404.90" y2="110.12" stroke="#3a3a3a" stroke-width="0.7"/>
<text x="401.20" y="112.77" font-size="7.17" text-anchor="end">PWY−5101</text>
<text x="569.30" y="110.92" font-size="7.1" text-anchor="start">0.020</text>
<path d="M534.00 110.12H540.70M534.00 108.14V112.10M540.70 108.14V112.10" stroke="#000" stroke-width="0.7" fill="none"/>
<circle cx="537.20" cy="110.12" r="1.4" fill="#EFA400" stroke="#000" stroke-width="0.62"/>
<rect x="407.40" y="115.72" width="33.90" height="3.02" fill="#52B8EF" stroke="#000" stroke-width="0.55"/>
<rect x="407.40" y="118.74" width="37.60" height="3.02" fill="#EFA400" stroke="#000" stroke-width="0.55"/>
<line x1="402.70" y1="118.74" x2="404.90" y2="118.74" stroke="#3a3a3a" stroke-width="0.7"/>
<text x="401.20" y="121.39" font-size="7.17" text-anchor="end">P241−PWY</text>
<text x="569.30" y="119.54" font-size="7.1" text-anchor="start">0.024</text>
<path d="M534.00 118.74H540.60M534.00 116.76V120.72M540.60 116.76V120.72" stroke="#000" stroke-width="0.7" fill="none"/>
<circle cx="537.20" cy="118.74" r="1.4" fill="#EFA400" stroke="#000" stroke-width="0.62"/>
<rect x="407.40" y="124.34" width="33.90" height="3.02" fill="#52B8EF" stroke="#000" stroke-width="0.55"/>
<rect x="407.40" y="127.36" width="37.60" height="3.02" fill="#EFA400" stroke="#000" stroke-width="0.55"/>
<line x1="402.70" y1="127.36" x2="404.90" y2="127.36" stroke="#3a3a3a" stroke-width="0.7"/>
<text x="401.20" y="130.01" font-size="7.17" text-anchor="end">PWY−5104</text>
<text x="569.30" y="128.16" font-size="7.1" text-anchor="start">0.022</text>
<path d="M534.00 127.36H540.30M534.00 125.38V129.34M540.30 125.38V129.34" stroke="#000" stroke-width="0.7" fill="none"/>
<circle cx="537.00" cy="127.36" r="1.4" fill="#EFA400" stroke="#000" stroke-width="0.62"/>
<rect x="407.40" y="132.96" width="28.60" height="3.02" fill="#52B8EF" stroke="#000" stroke-width="0.55"/>
<rect x="407.40" y="135.98" width="31.90" height="3.02" fill="#EFA400" stroke="#000" stroke-width="0.55"/>
<line x1="402.70" y1="135.98" x2="404.90" y2="135.98" stroke="#3a3a3a" stroke-width="0.7"/>
<text x="401.20" y="138.63" font-size="7.17" text-anchor="end">ILEUSYN−PWY</text>
<text x="569.30" y="136.78" font-size="7.1" text-anchor="start">0.019</text>
<path d="M533.80 135.98H540.30M533.80 134.00V137.96M540.30 134.00V137.96" stroke="#000" stroke-width="0.7" fill="none"/>
<circle cx="537.10" cy="135.98" r="1.4" fill="#EFA400" stroke="#000" stroke-width="0.62"/>
<rect x="407.40" y="141.58" width="28.60" height="3.02" fill="#52B8EF" stroke="#000" stroke-width="0.55"/>
<rect x="407.40" y="144.60" width="31.90" height="3.02" fill="#EFA400" stroke="#000" stroke-width="0.55"/>
<line x1="402.70" y1="144.60" x2="404.90" y2="144.60" stroke="#3a3a3a" stroke-width="0.7"/>
<text x="401.20" y="147.25" font-size="7.17" text-anchor="end">VALSYN−PWY</text>
<text x="569.30" y="145.40" font-size="7.1" text-anchor="start">0.019</text>
<path d="M533.80 144.60H540.24M533.80 142.62V146.58M540.24 142.62V146.58" stroke="#000" stroke-width="0.7" fill="none"/>
<circle cx="537.07" cy="144.60" r="1.4" fill="#EFA400" stroke="#000" stroke-width="0.62"/>
<rect x="407.40" y="150.20" width="28.60" height="3.02" fill="#52B8EF" stroke="#000" stroke-width="0.55"/>
<rect x="407.40" y="153.22" width="31.90" height="3.02" fill="#EFA400" stroke="#000" stroke-width="0.55"/>
<line x1="402.70" y1="153.22" x2="404.90" y2="153.22" stroke="#3a3a3a" stroke-width="0.7"/>
<text x="401.20" y="155.87" font-size="7.17" text-anchor="end">PWY−7111</text>
<text x="569.30" y="154.02" font-size="7.1" text-anchor="start">0.019</text>
<path d="M533.80 153.22H540.17M533.80 151.24V155.20M540.17 151.24V155.20" stroke="#000" stroke-width="0.7" fill="none"/>
<circle cx="537.04" cy="153.22" r="1.4" fill="#EFA400" stroke="#000" stroke-width="0.62"/>
<rect x="407.40" y="158.82" width="25.90" height="3.02" fill="#52B8EF" stroke="#000" stroke-width="0.55"/>
<rect x="407.40" y="161.84" width="29.30" height="3.02" fill="#EFA400" stroke="#000" stroke-width="0.55"/>
<line x1="402.70" y1="161.84" x2="404.90" y2="161.84" stroke="#3a3a3a" stroke-width="0.7"/>
<text x="401.20" y="164.49" font-size="7.17" text-anchor="end">UDPNAGSYN−PWY</text>
<text x="569.30" y="162.64" font-size="7.1" text-anchor="start">0.019</text>
<path d="M533.80 161.84H540.11M533.80 159.86V163.82M540.11 159.86V163.82" stroke="#000" stroke-width="0.7" fill="none"/>
<circle cx="537.00" cy="161.84" r="1.4" fill="#EFA400" stroke="#000" stroke-width="0.62"/>
<rect x="407.40" y="167.44" width="27.60" height="3.02" fill="#52B8EF" stroke="#000" stroke-width="0.55"/>
<rect x="407.40" y="170.46" width="30.90" height="3.02" fill="#EFA400" stroke="#000" stroke-width="0.55"/>
<line x1="402.70" y1="170.46" x2="404.90" y2="170.46" stroke="#3a3a3a" stroke-width="0.7"/>
<text x="401.20" y="173.11" font-size="7.17" text-anchor="end">PWY−5103</text>
<text x="569.30" y="171.26" font-size="7.1" text-anchor="start">0.021</text>
<path d="M533.80 170.46H540.04M533.80 168.48V172.44M540.04 168.48V172.44" stroke="#000" stroke-width="0.7" fill="none"/>
<circle cx="536.97" cy="170.46" r="1.4" fill="#EFA400" stroke="#000" stroke-width="0.62"/>
<rect x="407.40" y="176.06" width="27.60" height="3.02" fill="#52B8EF" stroke="#000" stroke-width="0.55"/>
<rect x="407.40" y="179.08" width="30.90" height="3.02" fill="#EFA400" stroke="#000" stroke-width="0.55"/>
<line x1="402.70" y1="179.08" x2="404.90" y2="179.08" stroke="#3a3a3a" stroke-width="0.7"/>
<text x="401.20" y="181.73" font-size="7.17" text-anchor="end">BRANCHED−CHAIN−AA−SYN−PWY</text>
<text x="569.30" y="179.88" font-size="7.1" text-anchor="start">0.021</text>
<path d="M533.80 179.08H539.98M533.80 177.10V181.06M539.98 177.10V181.06" stroke="#000" stroke-width="0.7" fill="none"/>
<circle cx="536.94" cy="179.08" r="1.4" fill="#EFA400" stroke="#000" stroke-width="0.62"/>
<rect x="407.40" y="184.68" width="26.60" height="3.02" fill="#52B8EF" stroke="#000" stroke-width="0.55"/>
<rect x="407.40" y="187.70" width="29.90" height="3.02" fill="#EFA400" stroke="#000" stroke-width="0.55"/>
<line x1="402.70" y1="187.70" x2="404.90" y2="187.70" stroke="#3a3a3a" stroke-width="0.7"/>
<text x="401.20" y="190.35" font-size="7.17" text-anchor="end">PWY−7187</text>
<text x="569.30" y="188.50" font-size="7.1" text-anchor="start">0.014</text>
<path d="M533.80 187.70H539.91M533.80 185.72V189.68M539.91 185.72V189.68" stroke="#000" stroke-width="0.7" fill="none"/>
<circle cx="536.91" cy="187.70" r="1.4" fill="#EFA400" stroke="#000" stroke-width="0.62"/>
<rect x="407.40" y="193.30" width="28.60" height="3.02" fill="#52B8EF" stroke="#000" stroke-width="0.55"/>
<rect x="407.40" y="196.32" width="31.90" height="3.02" fill="#EFA400" stroke="#000" stroke-width="0.55"/>
<line x1="402.70" y1="196.32" x2="404.90" y2="196.32" stroke="#3a3a3a" stroke-width="0.7"/>
<text x="401.20" y="198.97" font-size="7.17" text-anchor="end">PWY0−162</text>
<text x="569.30" y="197.12" font-size="7.1" text-anchor="start">0.027</text>
<path d="M533.80 196.32H539.85M533.80 194.34V198.30M539.85 194.34V198.30" stroke="#000" stroke-width="0.7" fill="none"/>
<circle cx="536.87" cy="196.32" r="1.4" fill="#EFA400" stroke="#000" stroke-width="0.62"/>
<rect x="407.40" y="201.92" width="28.60" height="3.02" fill="#52B8EF" stroke="#000" stroke-width="0.55"/>
<rect x="407.40" y="204.94" width="31.90" height="3.02" fill="#EFA400" stroke="#000" stroke-width="0.55"/>
<line x1="402.70" y1="204.94" x2="404.90" y2="204.94" stroke="#3a3a3a" stroke-width="0.7"/>
<text x="401.20" y="207.59" font-size="7.17" text-anchor="end">PWY−5686</text>
<text x="569.30" y="205.74" font-size="7.1" text-anchor="start">0.028</text>
<path d="M533.80 204.94H539.78M533.80 202.96V206.92M539.78 202.96V206.92" stroke="#000" stroke-width="0.7" fill="none"/>
<circle cx="536.84" cy="204.94" r="1.4" fill="#EFA400" stroke="#000" stroke-width="0.62"/>
<rect x="407.40" y="210.54" width="28.60" height="3.02" fill="#52B8EF" stroke="#000" stroke-width="0.55"/>
<rect x="407.40" y="213.56" width="31.90" height="3.02" fill="#EFA400" stroke="#000" stroke-width="0.55"/>
<line x1="402.70" y1="213.56" x2="404.90" y2="213.56" stroke="#3a3a3a" stroke-width="0.7"/>
<text x="401.20" y="216.21" font-size="7.17" text-anchor="end">PWY−6122</text>
<text x="569.30" y="214.36" font-size="7.1" text-anchor="start">0.028</text>
<path d="M533.80 213.56H539.72M533.80 211.58V215.54M539.72 211.58V215.54" stroke="#000" stroke-width="0.7" fill="none"/>
<circle cx="536.81" cy="213.56" r="1.4" fill="#EFA400" stroke="#000" stroke-width="0.62"/>
<rect x="407.40" y="219.16" width="28.60" height="3.02" fill="#52B8EF" stroke="#000" stroke-width="0.55"/>
<rect x="407.40" y="222.18" width="31.90" height="3.02" fill="#EFA400" stroke="#000" stroke-width="0.55"/>
<line x1="402.70" y1="222.18" x2="404.90" y2="222.18" stroke="#3a3a3a" stroke-width="0.7"/>
<text x="401.20" y="224.83" font-size="7.17" text-anchor="end">PWY−6277</text>
<text x="569.30" y="222.98" font-size="7.1" text-anchor="start">0.028</text>
<path d="M533.80 222.18H539.65M533.80 220.20V224.16M539.65 220.20V224.16" stroke="#000" stroke-width="0.7" fill="none"/>
<circle cx="536.78" cy="222.18" r="1.4" fill="#EFA400" stroke="#000" stroke-width="0.62"/>
<rect x="407.40" y="227.78" width="27.60" height="3.02" fill="#52B8EF" stroke="#000" stroke-width="0.55"/>
<rect x="407.40" y="230.80" width="30.90" height="3.02" fill="#EFA400" stroke="#000" stroke-width="0.55"/>
<line x1="402.70" y1="230.80" x2="404.90" y2="230.80" stroke="#3a3a3a" stroke-width="0.7"/>
<text x="401.20" y="233.45" font-size="7.17" text-anchor="end">PWY−7208</text>
<text x="569.30" y="231.60" font-size="7.1" text-anchor="start">0.026</text>
<path d="M533.80 230.80H539.59M533.80 228.82V232.78M539.59 228.82V232.78" stroke="#000" stroke-width="0.7" fill="none"/>
<circle cx="536.75" cy="230.80" r="1.4" fill="#EFA400" stroke="#000" stroke-width="0.62"/>
<rect x="407.40" y="236.40" width="27.60" height="3.02" fill="#52B8EF" stroke="#000" stroke-width="0.55"/>
<rect x="407.40" y="239.42" width="30.90" height="3.02" fill="#EFA400" stroke="#000" stroke-width="0.55"/>
<line x1="402.70" y1="239.42" x2="404.90" y2="239.42" stroke="#3a3a3a" stroke-width="0.7"/>
<text x="401.20" y="242.07" font-size="7.17" text-anchor="end">PWY−6121</text>
<text x="569.30" y="240.22" font-size="7.1" text-anchor="start">0.028</text>
<path d="M533.80 239.42H539.53M533.80 237.44V241.40M539.53 237.44V241.40" stroke="#000" stroke-width="0.7" fill="none"/>
<circle cx="536.71" cy="239.42" r="1.4" fill="#EFA400" stroke="#000" stroke-width="0.62"/>
<rect x="407.40" y="245.02" width="27.60" height="3.02" fill="#52B8EF" stroke="#000" stroke-width="0.55"/>
<rect x="407.40" y="248.04" width="30.60" height="3.02" fill="#EFA400" stroke="#000" stroke-width="0.55"/>
<line x1="402.70" y1="248.04" x2="404.90" y2="248.04" stroke="#3a3a3a" stroke-width="0.7"/>
<text x="401.20" y="250.69" font-size="7.17" text-anchor="end">PWY−7219</text>
<text x="569.30" y="248.84" font-size="7.1" text-anchor="start">0.028</text>
<path d="M533.80 248.04H539.46M533.80 246.06V250.02M539.46 246.06V250.02" stroke="#000" stroke-width="0.7" fill="none"/>
<circle cx="536.68" cy="248.04" r="1.4" fill="#EFA400" stroke="#000" stroke-width="0.62"/>
<rect x="407.40" y="253.64" width="26.60" height="3.02" fill="#52B8EF" stroke="#000" stroke-width="0.55"/>
<rect x="407.40" y="256.66" width="29.30" height="3.02" fill="#EFA400" stroke="#000" stroke-width="0.55"/>
<line x1="402.70" y1="256.66" x2="404.90" y2="256.66" stroke="#3a3a3a" stroke-width="0.7"/>
<text x="401.20" y="259.31" font-size="7.17" text-anchor="end">PWY−7229</text>
<text x="569.30" y="257.46" font-size="7.1" text-anchor="start">0.027</text>
<path d="M533.80 256.66H539.40M533.80 254.68V258.64M539.40 254.68V258.64" stroke="#000" stroke-width="0.7" fill="none"/>
<circle cx="536.65" cy="256.66" r="1.4" fill="#EFA400" stroke="#000" stroke-width="0.62"/>
<rect x="407.40" y="262.26" width="26.60" height="3.02" fill="#52B8EF" stroke="#000" stroke-width="0.55"/>
<rect x="407.40" y="265.28" width="29.30" height="3.02" fill="#EFA400" stroke="#000" stroke-width="0.55"/>
<line x1="402.70" y1="265.28" x2="404.90" y2="265.28" stroke="#3a3a3a" stroke-width="0.7"/>
<text x="401.20" y="267.93" font-size="7.17" text-anchor="end">HISTSYN−PWY</text>
<text x="569.30" y="266.08" font-size="7.1" text-anchor="start">0.028</text>
<path d="M533.80 265.28H539.33M533.80 263.30V267.26M539.33 263.30V267.26" stroke="#000" stroke-width="0.7" fill="none"/>
<circle cx="536.62" cy="265.28" r="1.4" fill="#EFA400" stroke="#000" stroke-width="0.62"/>
<rect x="407.40" y="270.88" width="26.10" height="3.02" fill="#52B8EF" stroke="#000" stroke-width="0.55"/>
<rect x="407.40" y="273.90" width="28.50" height="3.02" fill="#EFA400" stroke="#000" stroke-width="0.55"/>
<line x1="402.70" y1="273.90" x2="404.90" y2="273.90" stroke="#3a3a3a" stroke-width="0.7"/>
<text x="401.20" y="276.55" font-size="7.17" text-anchor="end">ARGSYNBSUB−PWY</text>
<text x="569.30" y="274.70" font-size="7.1" text-anchor="start">0.028</text>
<path d="M533.80 273.90H539.27M533.80 271.92V275.88M539.27 271.92V275.88" stroke="#000" stroke-width="0.7" fill="none"/>
<circle cx="536.58" cy="273.90" r="1.4" fill="#EFA400" stroke="#000" stroke-width="0.62"/>
<rect x="407.40" y="279.50" width="25.30" height="3.02" fill="#52B8EF" stroke="#000" stroke-width="0.55"/>
<rect x="407.40" y="282.52" width="27.40" height="3.02" fill="#EFA400" stroke="#000" stroke-width="0.55"/>
<line x1="402.70" y1="282.52" x2="404.90" y2="282.52" stroke="#3a3a3a" stroke-width="0.7"/>
<text x="401.20" y="285.17" font-size="7.17" text-anchor="end">ARGSYN−PWY</text>
<text x="569.30" y="283.32" font-size="7.1" text-anchor="start">0.028</text>
<path d="M533.80 282.52H539.20M533.80 280.54V284.50M539.20 280.54V284.50" stroke="#000" stroke-width="0.7" fill="none"/>
<circle cx="536.55" cy="282.52" r="1.4" fill="#EFA400" stroke="#000" stroke-width="0.62"/>
<rect x="407.40" y="288.12" width="25.30" height="3.02" fill="#52B8EF" stroke="#000" stroke-width="0.55"/>
<rect x="407.40" y="291.14" width="27.40" height="3.02" fill="#EFA400" stroke="#000" stroke-width="0.55"/>
<line x1="402.70" y1="291.14" x2="404.90" y2="291.14" stroke="#3a3a3a" stroke-width="0.7"/>
<text x="401.20" y="293.79" font-size="7.17" text-anchor="end">PWY−7400</text>
<text x="569.30" y="291.94" font-size="7.1" text-anchor="start">0.028</text>
<path d="M533.80 291.14H539.14M533.80 289.16V293.12M539.14 289.16V293.12" stroke="#000" stroke-width="0.7" fill="none"/>
<circle cx="536.52" cy="291.14" r="1.4" fill="#EFA400" stroke="#000" stroke-width="0.62"/>
<rect x="407.40" y="296.74" width="27.10" height="3.02" fill="#52B8EF" stroke="#000" stroke-width="0.55"/>
<rect x="407.40" y="299.76" width="29.80" height="3.02" fill="#EFA400" stroke="#000" stroke-width="0.55"/>
<line x1="402.70" y1="299.76" x2="404.90" y2="299.76" stroke="#3a3a3a" stroke-width="0.7"/>
<text x="401.20" y="302.41" font-size="7.17" text-anchor="end">PWY−5198</text>
<text x="569.30" y="300.56" font-size="7.1" text-anchor="start">0.026</text>
<path d="M533.80 299.76H539.07M533.80 297.78V301.74M539.07 297.78V301.74" stroke="#000" stroke-width="0.7" fill="none"/>
<circle cx="536.49" cy="299.76" r="1.4" fill="#EFA400" stroke="#000" stroke-width="0.62"/>
<rect x="407.40" y="305.36" width="29.30" height="3.02" fill="#52B8EF" stroke="#000" stroke-width="0.55"/>
<rect x="407.40" y="308.38" width="31.40" height="3.02" fill="#EFA400" stroke="#000" stroke-width="0.55"/>
<line x1="402.70" y1="308.38" x2="404.90" y2="308.38" stroke="#3a3a3a" stroke-width="0.7"/>
<text x="401.20" y="311.03" font-size="7.17" text-anchor="end">DTDPRHAMSYN−PWY</text>
<text x="569.30" y="309.18" font-size="7.1" text-anchor="start">0.014</text>
<path d="M533.80 308.38H539.01M533.80 306.40V310.36M539.01 306.40V310.36" stroke="#000" stroke-width="0.7" fill="none"/>
<circle cx="536.45" cy="308.38" r="1.4" fill="#EFA400" stroke="#000" stroke-width="0.62"/>
<rect x="407.40" y="313.98" width="24.70" height="3.02" fill="#52B8EF" stroke="#000" stroke-width="0.55"/>
<rect x="407.40" y="317.00" width="26.90" height="3.02" fill="#EFA400" stroke="#000" stroke-width="0.55"/>
<line x1="402.70" y1="317.00" x2="404.90" y2="317.00" stroke="#3a3a3a" stroke-width="0.7"/>
<text x="401.20" y="319.65" font-size="7.17" text-anchor="end">GLUTORN−PWY</text>
<text x="569.30" y="317.80" font-size="7.1" text-anchor="start">0.027</text>
<path d="M533.80 317.00H538.95M533.80 315.02V318.98M538.95 315.02V318.98" stroke="#000" stroke-width="0.7" fill="none"/>
<circle cx="536.42" cy="317.00" r="1.4" fill="#EFA400" stroke="#000" stroke-width="0.62"/>
<rect x="407.40" y="322.60" width="24.50" height="3.02" fill="#52B8EF" stroke="#000" stroke-width="0.55"/>
<rect x="407.40" y="325.62" width="26.60" height="3.02" fill="#EFA400" stroke="#000" stroke-width="0.55"/>
<line x1="402.70" y1="325.62" x2="404.90" y2="325.62" stroke="#3a3a3a" stroke-width="0.7"/>
<text x="401.20" y="328.27" font-size="7.17" text-anchor="end">PWY−5097</text>
<text x="569.30" y="326.42" font-size="7.1" text-anchor="start">0.028</text>
<path d="M533.80 325.62H538.88M533.80 323.64V327.60M538.88 323.64V327.60" stroke="#000" stroke-width="0.7" fill="none"/>
<circle cx="536.39" cy="325.62" r="1.4" fill="#EFA400" stroke="#000" stroke-width="0.62"/>
<rect x="407.40" y="331.22" width="24.50" height="3.02" fill="#52B8EF" stroke="#000" stroke-width="0.55"/>
<rect x="407.40" y="334.24" width="26.60" height="3.02" fill="#EFA400" stroke="#000" stroke-width="0.55"/>
<line x1="402.70" y1="334.24" x2="404.90" y2="334.24" stroke="#3a3a3a" stroke-width="0.7"/>
<text x="401.20" y="336.89" font-size="7.17" text-anchor="end">PWY−2942</text>
<text x="569.30" y="335.04" font-size="7.1" text-anchor="start">0.028</text>
<path d="M533.80 334.24H538.82M533.80 332.26V336.22M538.82 332.26V336.22" stroke="#000" stroke-width="0.7" fill="none"/>
<circle cx="536.36" cy="334.24" r="1.4" fill="#EFA400" stroke="#000" stroke-width="0.62"/>
<rect x="407.40" y="339.84" width="34.10" height="3.02" fill="#52B8EF" stroke="#000" stroke-width="0.55"/>
<rect x="407.40" y="342.86" width="36.50" height="3.02" fill="#EFA400" stroke="#000" stroke-width="0.55"/>
<line x1="402.70" y1="342.86" x2="404.90" y2="342.86" stroke="#3a3a3a" stroke-width="0.7"/>
<text x="401.20" y="345.51" font-size="7.17" text-anchor="end">PWY−7221</text>
<text x="569.30" y="343.66" font-size="7.1" text-anchor="start">0.041</text>
<path d="M533.80 342.86H538.75M533.80 340.88V344.84M538.75 340.88V344.84" stroke="#000" stroke-width="0.7" fill="none"/>
<circle cx="536.33" cy="342.86" r="1.4" fill="#EFA400" stroke="#000" stroke-width="0.62"/>
<rect x="407.40" y="348.46" width="24.50" height="3.02" fill="#52B8EF" stroke="#000" stroke-width="0.55"/>
<rect x="407.40" y="351.48" width="26.90" height="3.02" fill="#EFA400" stroke="#000" stroke-width="0.55"/>
<line x1="402.70" y1="351.48" x2="404.90" y2="351.48" stroke="#3a3a3a" stroke-width="0.7"/>
<text x="401.20" y="354.13" font-size="7.17" text-anchor="end">PWY−5189</text>
<text x="569.30" y="352.28" font-size="7.1" text-anchor="start">0.028</text>
<path d="M533.80 351.48H538.69M533.80 349.50V353.46M538.69 349.50V353.46" stroke="#000" stroke-width="0.7" fill="none"/>
<circle cx="536.29" cy="351.48" r="1.4" fill="#EFA400" stroke="#000" stroke-width="0.62"/>
<rect x="407.40" y="357.08" width="24.50" height="3.02" fill="#52B8EF" stroke="#000" stroke-width="0.55"/>
<rect x="407.40" y="360.10" width="26.90" height="3.02" fill="#EFA400" stroke="#000" stroke-width="0.55"/>
<line x1="402.70" y1="360.10" x2="404.90" y2="360.10" stroke="#3a3a3a" stroke-width="0.7"/>
<text x="401.20" y="362.75" font-size="7.17" text-anchor="end">PWY−5188</text>
<text x="569.30" y="360.90" font-size="7.1" text-anchor="start">0.028</text>
<path d="M533.80 360.10H538.62M533.80 358.12V362.08M538.62 358.12V362.08" stroke="#000" stroke-width="0.7" fill="none"/>
<circle cx="536.26" cy="360.10" r="1.4" fill="#EFA400" stroke="#000" stroke-width="0.62"/>
<rect x="407.40" y="365.70" width="24.50" height="3.02" fill="#52B8EF" stroke="#000" stroke-width="0.55"/>
<rect x="407.40" y="368.72" width="26.90" height="3.02" fill="#EFA400" stroke="#000" stroke-width="0.55"/>
<line x1="402.70" y1="368.72" x2="404.90" y2="368.72" stroke="#3a3a3a" stroke-width="0.7"/>
<text x="401.20" y="371.37" font-size="7.17" text-anchor="end">PWY−6349</text>
<text x="569.30" y="369.52" font-size="7.1" text-anchor="start">0.028</text>
<path d="M533.80 368.72H538.56M533.80 366.74V370.70M538.56 366.74V370.70" stroke="#000" stroke-width="0.7" fill="none"/>
<circle cx="536.23" cy="368.72" r="1.4" fill="#EFA400" stroke="#000" stroke-width="0.62"/>
<rect x="407.40" y="374.32" width="24.50" height="3.02" fill="#52B8EF" stroke="#000" stroke-width="0.55"/>
<rect x="407.40" y="377.34" width="26.90" height="3.02" fill="#EFA400" stroke="#000" stroke-width="0.55"/>
<line x1="402.70" y1="377.34" x2="404.90" y2="377.34" stroke="#3a3a3a" stroke-width="0.7"/>
<text x="401.20" y="379.99" font-size="7.17" text-anchor="end">PWY−7286</text>
<text x="569.30" y="378.14" font-size="7.1" text-anchor="start">0.028</text>
<path d="M533.80 377.34H538.49M533.80 375.36V379.32M538.49 375.36V379.32" stroke="#000" stroke-width="0.7" fill="none"/>
<circle cx="536.20" cy="377.34" r="1.4" fill="#EFA400" stroke="#000" stroke-width="0.62"/>
<rect x="407.40" y="382.94" width="24.50" height="3.02" fill="#52B8EF" stroke="#000" stroke-width="0.55"/>
<rect x="407.40" y="385.96" width="26.90" height="3.02" fill="#EFA400" stroke="#000" stroke-width="0.55"/>
<line x1="402.70" y1="385.96" x2="404.90" y2="385.96" stroke="#3a3a3a" stroke-width="0.7"/>
<text x="401.20" y="388.61" font-size="7.17" text-anchor="end">PWY−6174</text>
<text x="569.30" y="386.76" font-size="7.1" text-anchor="start">0.029</text>
<path d="M533.80 385.96H538.43M533.80 383.98V387.94M538.43 383.98V387.94" stroke="#000" stroke-width="0.7" fill="none"/>
<circle cx="536.16" cy="385.96" r="1.4" fill="#EFA400" stroke="#000" stroke-width="0.62"/>
<rect x="407.40" y="391.56" width="24.80" height="3.02" fill="#52B8EF" stroke="#000" stroke-width="0.55"/>
<rect x="407.40" y="394.58" width="27.10" height="3.02" fill="#EFA400" stroke="#000" stroke-width="0.55"/>
<line x1="402.70" y1="394.58" x2="404.90" y2="394.58" stroke="#3a3a3a" stroke-width="0.7"/>
<text x="401.20" y="397.23" font-size="7.17" text-anchor="end">PWY−6897</text>
<text x="569.30" y="395.38" font-size="7.1" text-anchor="start">0.029</text>
<path d="M533.80 394.58H538.36M533.80 392.60V396.56M538.36 392.60V396.56" stroke="#000" stroke-width="0.7" fill="none"/>
<circle cx="536.13" cy="394.58" r="1.4" fill="#EFA400" stroke="#000" stroke-width="0.62"/>
<rect x="407.40" y="400.18" width="26.80" height="3.02" fill="#52B8EF" stroke="#000" stroke-width="0.55"/>
<rect x="407.40" y="403.20" width="29.40" height="3.02" fill="#EFA400" stroke="#000" stroke-width="0.55"/>
<line x1="402.70" y1="403.20" x2="404.90" y2="403.20" stroke="#3a3a3a" stroke-width="0.7"/>
<text x="401.20" y="405.85" font-size="7.17" text-anchor="end">PWY−3001</text>
<text x="569.30" y="404.00" font-size="7.1" text-anchor="start">0.033</text>
<path d="M533.80 403.20H538.30M533.80 401.22V405.18M538.30 401.22V405.18" stroke="#000" stroke-width="0.7" fill="none"/>
<circle cx="536.10" cy="403.20" r="1.4" fill="#EFA400" stroke="#000" stroke-width="0.62"/>
<rect x="407.40" y="408.80" width="23.00" height="3.02" fill="#52B8EF" stroke="#000" stroke-width="0.55"/>
<rect x="407.40" y="411.82" width="13.30" height="3.02" fill="#EFA400" stroke="#000" stroke-width="0.55"/>
<line x1="402.70" y1="411.82" x2="404.90" y2="411.82" stroke="#3a3a3a" stroke-width="0.7"/>
<text x="401.20" y="414.47" font-size="7.17" text-anchor="end">PWY−6126</text>
<text x="569.30" y="412.62" font-size="7.1" text-anchor="start">0.034</text>
<path d="M512.50 411.82H532.00M512.50 409.84V413.80M532.00 409.84V413.80" stroke="#000" stroke-width="0.7" fill="none"/>
<circle cx="522.20" cy="411.82" r="1.4" fill="#52B8EF" stroke="#000" stroke-width="0.62"/>
<rect x="407.40" y="417.42" width="14.10" height="3.02" fill="#52B8EF" stroke="#000" stroke-width="0.55"/>
<rect x="407.40" y="420.44" width="4.20" height="3.02" fill="#EFA400" stroke="#000" stroke-width="0.55"/>
<line x1="402.70" y1="420.44" x2="404.90" y2="420.44" stroke="#3a3a3a" stroke-width="0.7"/>
<text x="401.20" y="423.09" font-size="7.17" text-anchor="end">PWY−5532</text>
<text x="569.30" y="421.24" font-size="7.1" text-anchor="start">0.013</text>
<path d="M514.30 420.44H530.00M514.30 418.46V422.42M530.00 418.46V422.42" stroke="#000" stroke-width="0.7" fill="none"/>
<circle cx="522.20" cy="420.44" r="1.4" fill="#52B8EF" stroke="#000" stroke-width="0.62"/>
<rect x="407.40" y="426.04" width="20.20" height="3.02" fill="#52B8EF" stroke="#000" stroke-width="0.55"/>
<rect x="407.40" y="429.06" width="10.40" height="3.02" fill="#EFA400" stroke="#000" stroke-width="0.55"/>
<line x1="402.70" y1="429.06" x2="404.90" y2="429.06" stroke="#3a3a3a" stroke-width="0.7"/>
<text x="401.20" y="431.71" font-size="7.17" text-anchor="end">DAPLYSINESYN−PWY</text>
<text x="569.30" y="429.86" font-size="7.1" text-anchor="start">0.022</text>
<path d="M512.80 429.06H530.80M512.80 427.08V431.04M530.80 427.08V431.04" stroke="#000" stroke-width="0.7" fill="none"/>
<circle cx="521.80" cy="429.06" r="1.4" fill="#52B8EF" stroke="#000" stroke-width="0.62"/>
<rect x="407.40" y="434.66" width="19.90" height="3.02" fill="#52B8EF" stroke="#000" stroke-width="0.55"/>
<rect x="407.40" y="437.68" width="9.90" height="3.02" fill="#EFA400" stroke="#000" stroke-width="0.55"/>
<line x1="402.70" y1="437.68" x2="404.90" y2="437.68" stroke="#3a3a3a" stroke-width="0.7"/>
<text x="401.20" y="440.33" font-size="7.17" text-anchor="end">POLYISOPRENSYN−PWY</text>
<text x="569.30" y="438.48" font-size="7.1" text-anchor="start">0.021</text>
<path d="M513.00 437.68H530.50M513.00 435.70V439.66M530.50 435.70V439.66" stroke="#000" stroke-width="0.7" fill="none"/>
<circle cx="521.70" cy="437.68" r="1.4" fill="#52B8EF" stroke="#000" stroke-width="0.62"/>
<rect x="407.40" y="443.28" width="19.10" height="3.02" fill="#52B8EF" stroke="#000" stroke-width="0.55"/>
<rect x="407.40" y="446.30" width="8.40" height="3.02" fill="#EFA400" stroke="#000" stroke-width="0.55"/>
<line x1="402.70" y1="446.30" x2="404.90" y2="446.30" stroke="#3a3a3a" stroke-width="0.7"/>
<text x="401.20" y="448.95" font-size="7.17" text-anchor="end">PWY−7220</text>
<text x="569.30" y="447.10" font-size="7.1" text-anchor="start">0.013</text>
<path d="M513.00 446.30H529.70M513.00 444.32V448.28M529.70 444.32V448.28" stroke="#000" stroke-width="0.7" fill="none"/>
<circle cx="521.30" cy="446.30" r="1.4" fill="#52B8EF" stroke="#000" stroke-width="0.62"/>
<rect x="407.40" y="451.90" width="19.10" height="3.02" fill="#52B8EF" stroke="#000" stroke-width="0.55"/>
<rect x="407.40" y="454.92" width="8.40" height="3.02" fill="#EFA400" stroke="#000" stroke-width="0.55"/>
<line x1="402.70" y1="454.92" x2="404.90" y2="454.92" stroke="#3a3a3a" stroke-width="0.7"/>
<text x="401.20" y="457.57" font-size="7.17" text-anchor="end">PWY−7222</text>
<text x="569.30" y="455.72" font-size="7.1" text-anchor="start">0.013</text>
<path d="M512.70 454.92H529.80M512.70 452.94V456.90M529.80 452.94V456.90" stroke="#000" stroke-width="0.7" fill="none"/>
<circle cx="521.40" cy="454.92" r="1.4" fill="#52B8EF" stroke="#000" stroke-width="0.62"/>
<rect x="407.40" y="460.52" width="19.10" height="3.02" fill="#52B8EF" stroke="#000" stroke-width="0.55"/>
<rect x="407.40" y="463.54" width="8.40" height="3.02" fill="#EFA400" stroke="#000" stroke-width="0.55"/>
<line x1="402.70" y1="463.54" x2="404.90" y2="463.54" stroke="#3a3a3a" stroke-width="0.7"/>
<text x="401.20" y="466.19" font-size="7.17" text-anchor="end">PWY−6123</text>
<text x="569.30" y="464.34" font-size="7.1" text-anchor="start">0.013</text>
<path d="M512.70 463.54H529.80M512.70 461.56V465.52M529.80 461.56V465.52" stroke="#000" stroke-width="0.7" fill="none"/>
<circle cx="521.20" cy="463.54" r="1.4" fill="#52B8EF" stroke="#000" stroke-width="0.62"/>
<rect x="407.40" y="469.14" width="17.00" height="3.02" fill="#52B8EF" stroke="#000" stroke-width="0.55"/>
<rect x="407.40" y="472.16" width="6.70" height="3.02" fill="#EFA400" stroke="#000" stroke-width="0.55"/>
<line x1="402.70" y1="472.16" x2="404.90" y2="472.16" stroke="#3a3a3a" stroke-width="0.7"/>
<text x="401.20" y="474.81" font-size="7.17" text-anchor="end">PWY−6703</text>
<text x="569.30" y="472.96" font-size="7.1" text-anchor="start">0.010</text>
<path d="M513.10 472.16H529.40M513.10 470.18V474.14M529.40 470.18V474.14" stroke="#000" stroke-width="0.7" fill="none"/>
<circle cx="521.20" cy="472.16" r="1.4" fill="#52B8EF" stroke="#000" stroke-width="0.62"/>
<rect x="407.40" y="477.76" width="15.90" height="3.02" fill="#52B8EF" stroke="#000" stroke-width="0.55"/>
<rect x="407.40" y="480.78" width="5.60" height="3.02" fill="#EFA400" stroke="#000" stroke-width="0.55"/>
<line x1="402.70" y1="480.78" x2="404.90" y2="480.78" stroke="#3a3a3a" stroke-width="0.7"/>
<text x="401.20" y="483.43" font-size="7.17" text-anchor="end">PWY−7323</text>
<text x="569.30" y="481.58" font-size="7.1" text-anchor="start">0.012</text>
<path d="M512.00 480.78H529.40M512.00 478.80V482.76M529.40 478.80V482.76" stroke="#000" stroke-width="0.7" fill="none"/>
<circle cx="520.70" cy="480.78" r="1.4" fill="#52B8EF" stroke="#000" stroke-width="0.62"/>
<rect x="407.40" y="486.38" width="19.60" height="3.02" fill="#52B8EF" stroke="#000" stroke-width="0.55"/>
<rect x="407.40" y="489.40" width="8.40" height="3.02" fill="#EFA400" stroke="#000" stroke-width="0.55"/>
<line x1="402.70" y1="489.40" x2="404.90" y2="489.40" stroke="#3a3a3a" stroke-width="0.7"/>
<text x="401.20" y="492.05" font-size="7.17" text-anchor="end">TRPSYN−PWY</text>
<text x="569.30" y="490.20" font-size="7.1" text-anchor="start">0.011</text>
<path d="M511.30 489.40H529.00M511.30 487.42V491.38M529.00 487.42V491.38" stroke="#000" stroke-width="0.7" fill="none"/>
<circle cx="520.20" cy="489.40" r="1.4" fill="#52B8EF" stroke="#000" stroke-width="0.62"/>
<rect x="407.40" y="495.00" width="17.90" height="3.02" fill="#52B8EF" stroke="#000" stroke-width="0.55"/>
<rect x="407.40" y="498.02" width="6.70" height="3.02" fill="#EFA400" stroke="#000" stroke-width="0.55"/>
<line x1="402.70" y1="498.02" x2="404.90" y2="498.02" stroke="#3a3a3a" stroke-width="0.7"/>
<text x="401.20" y="500.67" font-size="7.17" text-anchor="end">PWY−5659</text>
<text x="569.30" y="498.82" font-size="7.1" text-anchor="start">0.009</text>
<path d="M510.80 498.02H528.70M510.80 496.04V500.00M528.70 496.04V500.00" stroke="#000" stroke-width="0.7" fill="none"/>
<circle cx="519.60" cy="498.02" r="1.4" fill="#52B8EF" stroke="#000" stroke-width="0.62"/>
<rect x="407.40" y="503.62" width="22.50" height="3.02" fill="#52B8EF" stroke="#000" stroke-width="0.55"/>
<rect x="407.40" y="506.64" width="10.20" height="3.02" fill="#EFA400" stroke="#000" stroke-width="0.55"/>
<line x1="402.70" y1="506.64" x2="404.90" y2="506.64" stroke="#3a3a3a" stroke-width="0.7"/>
<text x="401.20" y="509.29" font-size="7.17" text-anchor="end">PWY−6125</text>
<text x="569.30" y="507.44" font-size="7.1" text-anchor="start">0.012</text>
<path d="M509.40 506.64H528.50M509.40 504.66V508.62M528.50 504.66V508.62" stroke="#000" stroke-width="0.7" fill="none"/>
<circle cx="519.10" cy="506.64" r="1.4" fill="#52B8EF" stroke="#000" stroke-width="0.62"/>
<rect x="407.40" y="512.24" width="22.20" height="3.02" fill="#52B8EF" stroke="#000" stroke-width="0.55"/>
<rect x="407.40" y="515.26" width="9.60" height="3.02" fill="#EFA400" stroke="#000" stroke-width="0.55"/>
<line x1="402.70" y1="515.26" x2="404.90" y2="515.26" stroke="#3a3a3a" stroke-width="0.7"/>
<text x="401.20" y="517.91" font-size="7.17" text-anchor="end">PWY−7228</text>
<text x="569.30" y="516.06" font-size="7.1" text-anchor="start">0.010</text>
<path d="M508.70 515.26H528.00M508.70 513.28V517.24M528.00 513.28V517.24" stroke="#000" stroke-width="0.7" fill="none"/>
<circle cx="518.40" cy="515.26" r="1.4" fill="#52B8EF" stroke="#000" stroke-width="0.62"/>
<rect x="407.40" y="520.86" width="53.30" height="3.02" fill="#52B8EF" stroke="#000" stroke-width="0.55"/>
<rect x="407.40" y="523.88" width="23.30" height="3.02" fill="#EFA400" stroke="#000" stroke-width="0.55"/>
<line x1="402.70" y1="523.88" x2="404.90" y2="523.88" stroke="#3a3a3a" stroke-width="0.7"/>
<text x="401.20" y="526.53" font-size="7.17" text-anchor="end">P42−PWY</text>
<text x="569.30" y="524.68" font-size="7.1" text-anchor="start">0.007</text>
<path d="M478.30 523.88H520.20M478.30 521.90V525.86M520.20 521.90V525.86" stroke="#000" stroke-width="0.7" fill="none"/>
<circle cx="499.40" cy="523.88" r="1.4" fill="#52B8EF" stroke="#000" stroke-width="0.62"/>
<line x1="404.90" y1="10.13" x2="404.90" y2="529.05" stroke="#3a3a3a" stroke-width="0.9"/>
<line x1="404.45" y1="529.05" x2="463.40" y2="529.05" stroke="#3a3a3a" stroke-width="0.9"/>
<line x1="474.90" y1="529.05" x2="562.80" y2="529.05" stroke="#3a3a3a" stroke-width="0.9"/>
<line x1="407.20" y1="529.05" x2="407.20" y2="531.25" stroke="#3a3a3a" stroke-width="0.7"/>
<text x="407.20" y="536.35" font-size="7.17" text-anchor="middle">0</text>
<line x1="423.90" y1="529.05" x2="423.90" y2="531.25" stroke="#3a3a3a" stroke-width="0.7"/>
<text x="423.90" y="536.35" font-size="7.17" text-anchor="middle">1</text>
<line x1="440.60" y1="529.05" x2="440.60" y2="531.25" stroke="#3a3a3a" stroke-width="0.7"/>
<text x="440.60" y="536.35" font-size="7.17" text-anchor="middle">2</text>
<line x1="457.30" y1="529.05" x2="457.30" y2="531.25" stroke="#3a3a3a" stroke-width="0.7"/>
<text x="457.30" y="536.35" font-size="7.17" text-anchor="middle">3</text>
<line x1="478.60" y1="529.05" x2="478.60" y2="531.25" stroke="#3a3a3a" stroke-width="0.7"/>
<text x="478.60" y="536.35" font-size="7.17" text-anchor="middle">−3</text>
<line x1="496.90" y1="529.05" x2="496.90" y2="531.25" stroke="#3a3a3a" stroke-width="0.7"/>
<text x="496.90" y="536.35" font-size="7.17" text-anchor="middle">−2</text>
<line x1="515.20" y1="529.05" x2="515.20" y2="531.25" stroke="#3a3a3a" stroke-width="0.7"/>
<text x="515.20" y="536.35" font-size="7.17" text-anchor="middle">−1</text>
<line x1="533.50" y1="529.05" x2="533.50" y2="531.25" stroke="#3a3a3a" stroke-width="0.7"/>
<text x="533.50" y="536.35" font-size="7.17" text-anchor="middle">0</text>
<line x1="551.80" y1="529.05" x2="551.80" y2="531.25" stroke="#3a3a3a" stroke-width="0.7"/>
<text x="551.80" y="536.35" font-size="7.17" text-anchor="middle">1</text>
<text x="434.10" y="543.65" font-size="7.3" text-anchor="middle">Mean proportion (%)</text>
<text x="526.30" y="543.65" font-size="7.3" text-anchor="middle">Difference in mean proportions (%)</text>
<text x="525.00" y="6.90" font-size="7.27" text-anchor="middle">95% confidence intervals</text>
<text x="0.00" y="0.00" font-size="7.17" text-anchor="middle" transform="translate(597.30,260.30) rotate(-90)">P−value</text>
</svg>
</body></html>
